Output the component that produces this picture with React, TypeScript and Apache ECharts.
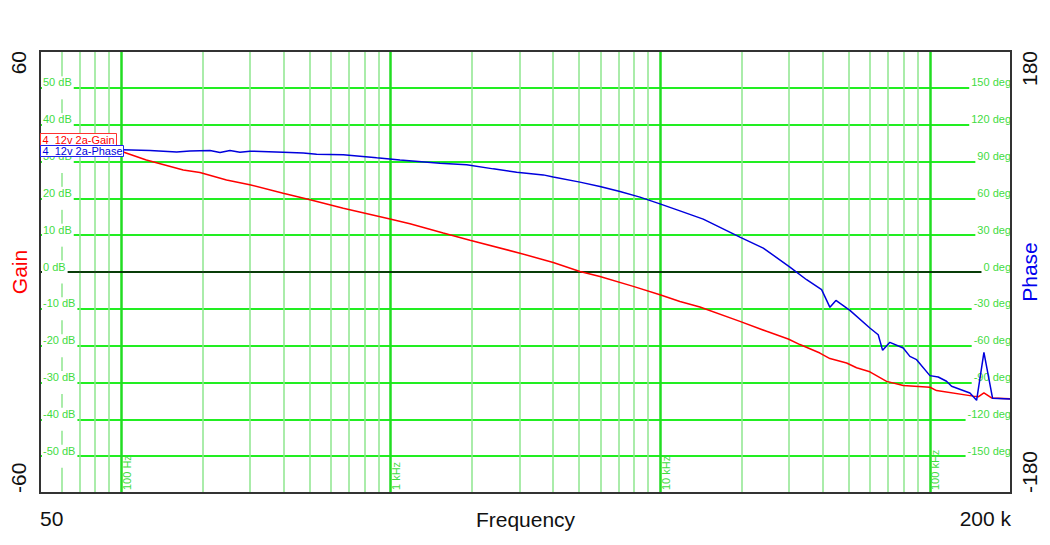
import React, { useEffect, useRef } from "react";
import * as echarts from "echarts";

// ---- data ----
const gainFreq = [50, 70, 100.5, 124, 170, 196, 246, 300, 399, 502, 667, 994, 1179, 1566, 1968, 3016, 4007, 5035, 5973, 7938, 9971, 11830, 14030, 19745, 24800, 29830, 32960, 39090, 42590, 49110, 53480, 59900, 69100, 79650, 100050, 105900, 144800, 151100, 158700, 169400, 198100, 200000];
const gainDb = [36.5, 34.6, 32.7, 30.4, 27.7, 27.0, 25.0, 23.7, 21.4, 19.6, 17.3, 14.4, 13.1, 10.6, 8.6, 5.1, 2.6, 0.15, -1.2, -3.9, -6.2, -8.0, -9.5, -13.4, -16.1, -18.2, -19.7, -22.0, -23.5, -24.7, -26.0, -27.1, -29.7, -30.8, -31.3, -32.2, -33.7, -33.9, -32.8, -34.2, -34.4, -34.5];

const phaseFreq = [50, 70, 100.5, 128, 160.7, 180, 213.6, 232.7, 253.4, 275.9, 300.5, 399, 473.8, 531, 667, 769, 887, 1082, 1523, 1912, 2401, 2933, 3680, 4007, 5035, 5973, 7085, 8405, 9971, 11830, 14430, 19745, 24100, 30260, 34900, 39670, 42590, 44820, 50520, 59900, 64340, 66800, 71070, 79650, 84330, 89290, 100050, 107400, 115300, 120400, 140800, 149100, 158700, 170900, 198100, 200000];
const phaseDeg = [99.6, 99.5, 99.5, 98.9, 97.8, 98.6, 98.9, 97.3, 98.9, 97.6, 98.4, 97.6, 97.0, 96.0, 95.4, 94.3, 93.0, 91.3, 88.6, 87.3, 84.0, 81.3, 79.1, 77.3, 73.2, 69.6, 65.5, 61.0, 55.5, 49.8, 43.1, 28.4, 19.5, 4.0, -6.3, -14.4, -28.8, -23.2, -31.3, -45.6, -51.1, -63.8, -57.3, -61.9, -68.7, -71.4, -84.4, -85.5, -89.0, -93.1, -98.5, -104.5, -65.5, -102.9, -103.4, -103.4];

const majorFreqs = [100, 1000, 10000, 100000];
const majorLabels = ["100 Hz", "1 kHz", "10 kHz", "100 kHz"];
const minorFreqs = [60, 70, 80, 90, 200, 300, 400, 500, 600, 700, 800, 900, 2000, 3000, 4000, 5000, 6000, 7000, 8000, 9000, 20000, 30000, 40000, 50000, 60000, 70000, 80000, 90000];

const gainName = "4  12v 2a-Gain";
const phaseName = "4  12v 2a-Phase";

const FONT = "Liberation Sans, Arial, sans-serif";
const LABEL_GREEN = "#3fdc3f";

function near(v: number, t: number) {
  return Math.abs(Math.log10(v) - Math.log10(t)) < 0.01;
}

const insideRich = {
  t: { fontSize: 11, lineHeight: 12, color: LABEL_GREEN, fontFamily: FONT },
  s: { fontSize: 2, lineHeight: 11 },
};

export default function App() {
  const ref = useRef<HTMLDivElement>(null);
  useEffect(() => {
    if (!ref.current) return;
    const chart = echarts.init(ref.current, undefined, { renderer: "svg" });

    const vLines = [
      ...minorFreqs.map((f) => ({ xAxis: f, lineStyle: { color: "#8ee68e", width: 1.5, type: "solid" as const } })),
      ...majorFreqs.map((f) => ({ xAxis: f, lineStyle: { color: "#22dd22", width: 2.5, type: "solid" as const } })),
      { yAxis: 0, lineStyle: { color: "#000000", width: 1.5, type: "solid" as const } },
    ];

    const option: any = {
      animation: false,
      backgroundColor: "#ffffff",
      textStyle: { fontFamily: FONT },
      grid: {
        left: 40, right: 39, top: 51, bottom: 52,
        outerBoundsMode: "none",
        containLabel: false,
        show: true, borderColor: "#333333", borderWidth: 2, backgroundColor: "transparent", z: 4,
      },
      xAxis: [
        {
          type: "log",
          logBase: 10,
          min: 50,
          max: 200000,
          position: "bottom",
          axisLine: { show: false },
          axisTick: { show: false },
          splitLine: { show: false },
          axisLabel: {
            inside: true,
            rotate: 90,
            margin: 3,
            verticalAlign: "top",
            color: LABEL_GREEN,
            fontSize: 11,
            fontFamily: FONT,
            showMinLabel: true,
            showMaxLabel: true,
            formatter: (v: number) => {
              for (let i = 0; i < majorFreqs.length; i++) if (near(v, majorFreqs[i])) return majorLabels[i];
              return "";
            },
          },
          z: 2,
        },
        {
          type: "log",
          logBase: 10,
          min: 50,
          max: 200000,
          position: "bottom",
          axisLine: { show: false },
          axisTick: { show: false },
          splitLine: { show: false },
          name: "Frequency",
          nameLocation: "middle",
          nameGap: 16,
          nameMoveOverlap: false,
          nameTextStyle: { fontSize: 21, color: "#111", fontFamily: FONT },
          axisLabel: {
            margin: 15,
            fontSize: 21,
            color: "#111",
            fontFamily: FONT,
            showMinLabel: true,
            showMaxLabel: true,
            alignMinLabel: "left",
            alignMaxLabel: "right",
            formatter: (v: number) => (v < 60 ? "50" : v > 150000 ? "200 k" : ""),
          },
        },
      ],
      yAxis: [
        {
          type: "value",
          min: -60,
          max: 60,
          interval: 10,
          position: "left",
          axisLine: { show: false },
          axisTick: { show: false },
          splitLine: { show: true, lineStyle: { color: "#22ee22", width: 2 } },
          name: "Gain",
          nameLocation: "middle",
          nameRotate: 90,
          nameGap: 10,
          nameMoveOverlap: false,
          nameTextStyle: { color: "#ff0000", fontSize: 21, fontFamily: FONT },
          axisLabel: {
            rotate: 90,
            margin: 11,
            fontSize: 21,
            color: "#111",
            fontFamily: FONT,
            showMinLabel: true,
            showMaxLabel: true,
            alignMinLabel: "left",
            alignMaxLabel: "right",
            formatter: (v: number) => (Math.round(v) === 60 ? "60" : Math.round(v) === -60 ? "-60" : ""),
          },
          z: 0,
        },
        {
          type: "value",
          min: -180,
          max: 180,
          interval: 30,
          position: "right",
          axisLine: { show: false },
          axisTick: { show: false },
          splitLine: { show: false },
          name: "Phase",
          nameLocation: "middle",
          nameRotate: 90,
          nameGap: 8,
          nameMoveOverlap: false,
          nameTextStyle: { color: "#0000ee", fontSize: 21, fontFamily: FONT },
          axisLabel: {
            rotate: 90,
            margin: 8,
            fontSize: 21,
            color: "#111",
            fontFamily: FONT,
            showMinLabel: true,
            showMaxLabel: true,
            alignMinLabel: "left",
            alignMaxLabel: "right",
            formatter: (v: number) => (Math.round(v) === 180 ? "180" : Math.round(v) === -180 ? "-180" : ""),
          },
          z: 0,
        },
        {
          type: "value",
          min: -60,
          max: 60,
          interval: 10,
          position: "left",
          axisLine: { show: false },
          axisTick: { show: false },
          splitLine: { show: false },
          axisLabel: {
            inside: true,
            margin: 2,
            backgroundColor: "#ffffff",
            padding: [0, 2, 0, 1],
            verticalAlign: "middle",
            rich: insideRich,
            formatter: (v: number) => (Math.abs(Math.round(v)) === 60 ? "" : `{t|${Math.round(v)} dB}\n{s| }`),
          },
          z: 2,
        },
        {
          type: "value",
          min: -180,
          max: 180,
          interval: 30,
          position: "right",
          axisLine: { show: false },
          axisTick: { show: false },
          splitLine: { show: false },
          axisLabel: {
            inside: true,
            margin: 0,
            backgroundColor: "#ffffff",
            padding: [0, 0, 0, 2],
            verticalAlign: "middle",
            rich: insideRich,
            formatter: (v: number) => (Math.abs(Math.round(v)) === 180 ? "" : `{t|${Math.round(v)} deg}\n{s| }`),
          },
          z: 2,
        },
      ],
      series: [
        {
          name: gainName,
          type: "line",
          xAxisIndex: 0,
          yAxisIndex: 0,
          data: gainFreq.map((f, i) => [f, gainDb[i]]),
          showSymbol: false,
          symbol: "none",
          lineStyle: { color: "#ff0000", width: 1.5 },
          itemStyle: { color: "#ff0000" },
          z: 3,
          silent: true,
          markLine: {
            silent: true,
            symbol: "none",
            z: 1,
            label: { show: false },
            animation: false,
            data: vLines,
          },
        },
        {
          name: phaseName,
          type: "line",
          xAxisIndex: 0,
          yAxisIndex: 1,
          data: phaseFreq.map((f, i) => [f, phaseDeg[i]]),
          showSymbol: false,
          symbol: "none",
          lineStyle: { color: "#0000dd", width: 1.5 },
          itemStyle: { color: "#0000dd" },
          z: 3,
          silent: true,
        },
      ],
      graphic: [
        {
          type: "group",
          left: 40,
          top: 133,
          z: 100,
          children: [
            { type: "rect", z: 100, shape: { x: 0, y: 0, width: 76, height: 12 }, style: { fill: "#fff", stroke: "#ff3030", lineWidth: 1 } },
            { type: "text", z: 101, x: 2, y: 0.5, style: { text: gainName, fill: "#ff0000", fontSize: 11, fontFamily: FONT } },
            { type: "rect", z: 102, shape: { x: 0, y: 12, width: 83, height: 11 }, style: { fill: "#fff", stroke: "#2020ee", lineWidth: 1 } },
            { type: "text", z: 103, x: 2, y: 12, style: { text: phaseName, fill: "#0000dd", fontSize: 11, fontFamily: FONT } },
          ],
        },
      ],
    };

    chart.setOption(option);
    return () => chart.dispose();
  }, []);

  return (
    <div
      ref={ref}
      style={{ position: "fixed", left: 0, top: 0, width: 1050, height: 545, background: "#fff" }}
    />
  );
}
